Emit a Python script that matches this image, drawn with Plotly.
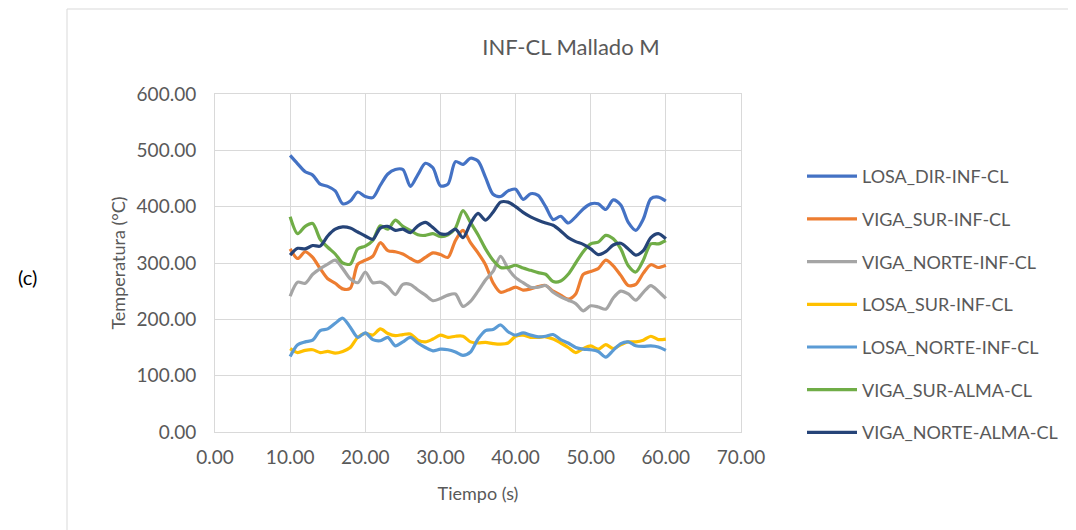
import plotly.graph_objects as go

tiempo = list(range(10, 61))

losa_dir_inf = [491, 476, 462, 456, 440, 436, 428, 405, 410, 426,
                418, 416, 438, 458, 466, 466, 436, 457, 477, 469,
                437, 440, 480, 475, 486, 481, 452, 422, 418, 428,
                431, 413, 423, 420, 400, 377, 383, 371, 382, 396,
                405, 405, 395, 412, 403, 372, 358, 378, 414, 417, 410]

viga_sur_inf = [325, 308, 320, 310, 290, 272, 264, 254, 255, 298,
                305, 312, 336, 322, 320, 316, 308, 302, 310, 318,
                315, 310, 340, 358, 336, 318, 297, 265, 248, 252,
                257, 252, 254, 258, 260, 250, 243, 236, 245, 280,
                285, 290, 305, 295, 278, 260, 262, 282, 297, 292, 296]

viga_norte_inf = [241, 266, 264, 280, 290, 298, 305, 290, 272, 265,
                  284, 265, 266, 258, 244, 262, 262, 252, 243, 233,
                  237, 243, 245, 223, 232, 250, 270, 285, 312, 290,
                  274, 265, 257, 257, 260, 248, 240, 234, 228, 215,
                  224, 222, 218, 238, 250, 245, 234, 248, 260, 250, 237]

losa_sur_inf = [148, 141, 145, 146, 141, 143, 140, 143, 150, 168,
                175, 172, 183, 175, 171, 173, 174, 163, 160, 165,
                172, 168, 170, 170, 160, 158, 159, 157, 156, 158,
                170, 172, 168, 168, 169, 165, 158, 150, 141, 148,
                153, 147, 155, 148, 155, 160, 160, 163, 170, 164, 165]

losa_norte_inf = [134, 155, 160, 163, 180, 183, 193, 202, 186, 168,
                  176, 164, 162, 168, 153, 160, 168, 158, 150, 144,
                  147, 146, 142, 136, 142, 165, 180, 182, 190, 178,
                  172, 176, 172, 169, 170, 173, 164, 158, 150, 147,
                  146, 143, 133, 145, 157, 160, 153, 152, 153, 151, 145]

viga_sur_alma = [382, 352, 365, 370, 342, 328, 316, 300, 298, 325,
                 330, 340, 366, 360, 376, 365, 358, 350, 349, 352,
                 347, 350, 362, 393, 372, 350, 325, 305, 292, 292,
                 296, 291, 287, 283, 280, 267, 268, 280, 300, 320,
                 334, 337, 349, 343, 325, 295, 284, 305, 334, 334, 340]

viga_norte_alma = [314, 326, 325, 331, 330, 348, 360, 364, 362, 355,
                   348, 342, 362, 365, 358, 360, 354, 366, 372, 363,
                   352, 352, 360, 345, 370, 388, 376, 390, 408, 408,
                   400, 390, 382, 376, 371, 367, 357, 345, 338, 333,
                   325, 315, 320, 332, 335, 325, 314, 322, 345, 352, 343]

series_names = ["LOSA_DIR-INF-CL", "VIGA_SUR-INF-CL", "VIGA_NORTE-INF-CL",
                "LOSA_SUR-INF-CL", "LOSA_NORTE-INF-CL", "VIGA_SUR-ALMA-CL",
                "VIGA_NORTE-ALMA-CL"]
series_values = [losa_dir_inf, viga_sur_inf, viga_norte_inf, losa_sur_inf,
                 losa_norte_inf, viga_sur_alma, viga_norte_alma]
colors = ["#4472C4", "#ED7D31", "#A5A5A5", "#FFC000", "#5B9BD5",
          "#70AD47", "#264478"]

x_ticks = [0, 10, 20, 30, 40, 50, 60, 70]
y_ticks = [0, 100, 200, 300, 400, 500, 600]

FONT = "Lato"
TXT = "#595959"

fig = go.Figure()
for i, (name, vals, col) in enumerate(zip(series_names, series_values, colors)):
    fig.add_trace(go.Scatter(
        x=tiempo, y=vals, name=name, mode="lines",
        line=dict(color=col, width=3.2, shape="spline", smoothing=0.8),
        legendgroup=f"g{i}",
    ))

OFF = 8  # page body margin
W, H = 1076 - OFF, 530 - OFF
L, R, T, B = 215 - OFF, 1076 - 741, 94 - OFF, 530 - 432
pw, ph = W - L - R, H - T - B


def px_x(p):
    return (p - OFF - L) / pw


def px_y(p):
    return (H - B - (p - OFF)) / ph


fig.update_layout(
    width=W, height=H,
    margin=dict(l=L, r=R, t=T, b=B),
    paper_bgcolor="white", plot_bgcolor="white",
    font=dict(family=FONT, color=TXT, size=18),
    title=dict(text="INF-CL Mallado M", xref="paper", x=px_x(571),
               xanchor="center", yref="container",
               y=1 - (47 - OFF) / H, yanchor="middle",
               font=dict(family=FONT, size=22, color=TXT)),
    showlegend=True,
    legend=dict(x=px_x(802), xanchor="left", y=px_y(158), yanchor="top",
                font=dict(family=FONT, size=18, color=TXT),
                tracegroupgap=16.3, itemwidth=50, bgcolor="rgba(0,0,0,0)"),
    xaxis=dict(range=[0, 70], tickvals=x_ticks, tickformat=".2f",
               showgrid=True, gridcolor="#D9D9D9", gridwidth=1,
               zeroline=False, showline=True, linecolor="#D9D9D9",
               mirror=True, ticks="", ticklabelstandoff=8,
               tickfont=dict(family=FONT, size=19, color=TXT),
               title=dict(text="Tiempo (s)", standoff=20,
                          font=dict(family=FONT, size=18, color=TXT))),
    yaxis=dict(range=[0, 600], tickvals=y_ticks, tickformat=".2f",
               showgrid=True, gridcolor="#D9D9D9", gridwidth=1,
               zeroline=False, showline=True, linecolor="#D9D9D9",
               mirror=True, ticks="", ticklabelstandoff=14,
               tickfont=dict(family=FONT, size=19, color=TXT),
               title=dict(text="Temperatura (°C)", standoff=6,
                          font=dict(family=FONT, size=18, color=TXT))),
    shapes=[dict(type="rect", xref="paper", yref="paper",
                 x0=px_x(67), x1=px_x(1071), y0=px_y(545), y1=px_y(9),
                 line=dict(color="#D9D9D9", width=1), layer="below")],
    annotations=[dict(text="(c)", xref="paper", yref="paper",
                      x=px_x(27), y=px_y(277), xanchor="center",
                      yanchor="middle", showarrow=False,
                      font=dict(family=FONT, size=20, color="black"))],
)

fig.write_html("out.html")
